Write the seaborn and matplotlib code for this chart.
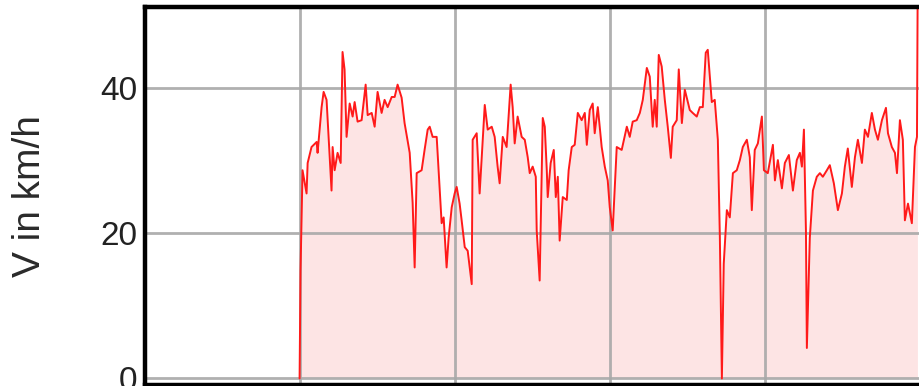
import numpy as np
import pandas as pd
import matplotlib
matplotlib.use("Agg")
import matplotlib.pyplot as plt
import seaborn as sns

# distance (grid unit = 1) and speed in km/h
distance = [
    1.000, 1.001, 1.006, 1.019, 1.045, 1.052, 1.077, 1.110, 1.116, 1.142,
    1.155, 1.174, 1.206, 1.213, 1.226, 1.245, 1.265, 1.277, 1.290, 1.303,
    1.323, 1.342, 1.355, 1.374, 1.400, 1.426, 1.439, 1.465, 1.484, 1.503,
    1.529, 1.548, 1.568, 1.594, 1.613, 1.632, 1.658, 1.677, 1.710, 1.729,
    1.742, 1.755, 1.787, 1.806, 1.826, 1.839, 1.858, 1.884, 1.890, 1.916,
    1.929, 1.948, 1.961, 1.981, 2.000, 2.013, 2.032, 2.045, 2.065, 2.084,
    2.110, 2.116, 2.142, 2.161, 2.181, 2.194, 2.213, 2.239, 2.258, 2.277,
    2.290, 2.310, 2.335, 2.361, 2.374, 2.387, 2.406, 2.432, 2.452, 2.471,
    2.484, 2.503, 2.523, 2.529, 2.548, 2.568, 2.581, 2.594, 2.600, 2.619,
    2.639, 2.652, 2.665, 2.677, 2.697, 2.723, 2.735, 2.755, 2.774, 2.794,
    2.819, 2.839, 2.852, 2.871, 2.890, 2.903, 2.923, 2.948, 2.968, 2.987,
    3.000, 3.019, 3.045, 3.077, 3.110, 3.129, 3.148, 3.174, 3.194, 3.213,
    3.239, 3.258, 3.277, 3.290, 3.303, 3.316, 3.335, 3.355, 3.374, 3.394,
    3.406, 3.432, 3.445, 3.465, 3.484, 3.516, 3.535, 3.561, 3.581, 3.600,
    3.619, 3.632, 3.658, 3.677, 3.697, 3.710, 3.723, 3.735, 3.755, 3.774,
    3.794, 3.819, 3.839, 3.858, 3.884, 3.903, 3.916, 3.935, 3.955, 3.981,
    3.994, 4.019, 4.052, 4.065, 4.084, 4.110, 4.129, 4.155, 4.181, 4.206,
    4.226, 4.239, 4.252, 4.265, 4.271, 4.290, 4.310, 4.335, 4.355, 4.374,
    4.400, 4.419, 4.445, 4.471, 4.497, 4.516, 4.535, 4.561, 4.581, 4.600,
    4.626, 4.645, 4.665, 4.690, 4.710, 4.729, 4.755, 4.781, 4.794, 4.819,
    4.839, 4.852, 4.871, 4.890, 4.903, 4.923, 4.948, 4.968, 4.981, 4.987,
]
speed = [
    0.0, 2.8, 14.8, 28.7, 25.5, 29.7, 31.9, 32.6, 31.1, 37.4,
    39.5, 38.4, 25.9, 31.9, 28.7, 31.1, 29.7, 45.0, 42.6, 33.3,
    37.9, 36.1, 38.1, 35.4, 35.6, 40.5, 36.3, 36.6, 34.7, 39.5,
    36.6, 38.4, 37.4, 38.8, 38.8, 40.5, 38.7, 35.2, 31.1, 24.2,
    15.3, 28.3, 28.7, 31.5, 34.3, 34.7, 33.3, 33.3, 31.1, 21.4,
    22.2, 15.3, 19.4, 23.6, 25.5, 26.4, 24.1, 21.8, 18.1, 17.6,
    13.0, 32.9, 33.8, 25.5, 32.9, 37.7, 34.3, 34.7, 33.3, 29.2,
    26.9, 33.3, 31.9, 40.5, 37.4, 32.4, 36.1, 33.3, 32.9, 30.5,
    28.3, 29.2, 27.8, 20.4, 13.5, 35.9, 34.7, 28.7, 25.0, 29.7,
    31.5, 25.0, 27.8, 19.0, 25.0, 24.6, 28.7, 31.9, 32.2, 36.6,
    35.6, 36.6, 32.2, 37.0, 37.9, 33.8, 37.4, 31.9, 29.2, 27.3,
    23.6, 20.4, 31.9, 31.5, 34.7, 33.3, 35.4, 35.6, 36.6, 38.4,
    42.8, 41.6, 34.7, 38.4, 34.7, 44.6, 43.0, 38.4, 34.7, 30.4,
    34.7, 35.6, 42.6, 35.2, 39.8, 37.0, 36.6, 36.1, 37.4, 37.4,
    44.9, 45.3, 38.1, 38.4, 32.9, 19.4, 0.0, 15.8, 23.2, 22.2,
    28.3, 28.7, 30.1, 31.9, 32.9, 30.5, 23.2, 31.5, 32.4, 36.1,
    28.7, 28.3, 32.2, 27.3, 30.1, 26.2, 29.7, 30.8, 25.9, 30.1,
    31.1, 29.2, 34.3, 20.4, 4.2, 19.4, 25.9, 27.8, 28.3, 27.8,
    28.7, 29.4, 26.9, 23.2, 25.5, 29.2, 31.7, 26.4, 30.5, 32.9,
    29.7, 34.3, 33.3, 36.6, 34.3, 32.9, 35.6, 37.3, 33.8, 31.9,
    31.1, 28.3, 35.6, 32.9, 21.8, 24.1, 21.4, 31.9, 33.3, 60.0,
]
y_ticks = [0, 20, 40]
y_label = "V in km/h"

df = pd.DataFrame({"distance": distance, "speed": speed})

sns.set_theme(style="white")
plt.rcParams["font.family"] = ["Liberation Sans", "DejaVu Sans"]

W, H = 919, 386
fig = plt.figure(figsize=(W / 100, H / 100), dpi=100)
left_px, right_px, top_px, bottom_px = 144.5, 930.0, 7.0, 385.0
ax = fig.add_axes([left_px / W, (H - bottom_px) / H,
                   (right_px - left_px) / W, (bottom_px - top_px) / H])

ax.fill_between(df["distance"], df["speed"], 0, color="#fde4e4",
                linewidth=0, zorder=1)
sns.lineplot(data=df, x="distance", y="speed", ax=ax, color="#ff1a1a",
             linewidth=1.4, zorder=3, sort=False, estimator=None)

ax.set_xlim(0, 5.065)
ax.set_ylim(-0.9, 51.2)
ax.set_xticks([1, 2, 3, 4, 5])
ax.set_yticks(y_ticks)
ax.set_xticklabels([])
ax.set_xlabel("")
ax.set_axisbelow(False)
ax.grid(True, color="#a8a8a8", linewidth=2.0, alpha=0.9)
ax.tick_params(axis="both", length=0)
ax.tick_params(axis="y", labelsize=24, pad=5, labelcolor="#222222")

for name, sp in ax.spines.items():
    sp.set_color("black")
    sp.set_linewidth(3.2)
    sp.set_zorder(4)

ax.set_ylabel(y_label, fontsize=28, color="#2a2a2a")
ax.yaxis.label.set_va("center")
ax.yaxis.set_label_coords((30 - left_px) / (right_px - left_px), 0.5)

fig.savefig("out.png", dpi=100)
